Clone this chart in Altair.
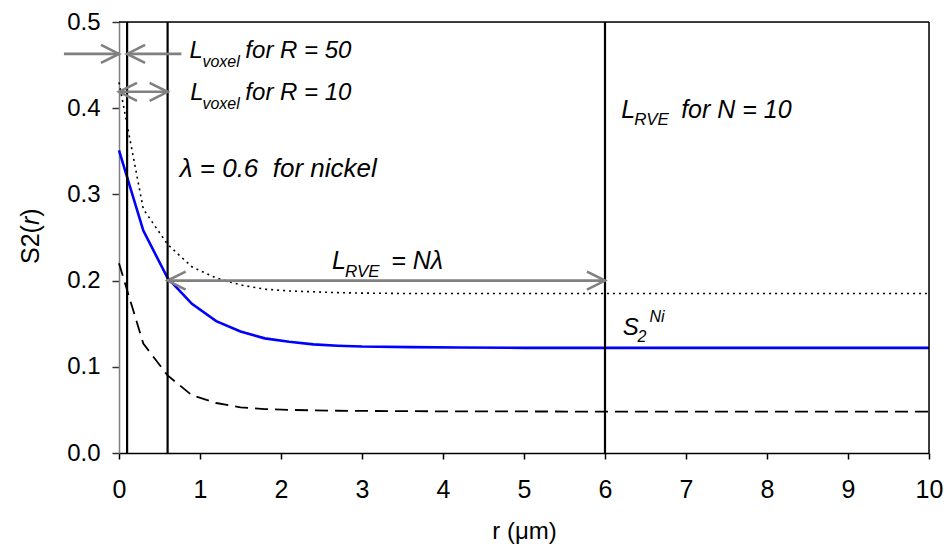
import altair as alt
import pandas as pd

# ---------------- data ----------------
r = [0, 0.3, 0.6, 0.9, 1.2, 1.5, 1.8, 2.1, 2.4, 2.7, 3.0, 3.6, 4.2, 5.0, 6.0, 7.0, 8.0, 9.0, 10.0]
s2_ni = [0.351, 0.258, 0.203, 0.173, 0.153, 0.141, 0.133, 0.129, 0.126, 0.1245, 0.1235,
         0.1228, 0.1224, 0.122, 0.122, 0.122, 0.122, 0.122, 0.122]
s2_upper = [0.43, 0.283, 0.242, 0.216, 0.203, 0.195, 0.190, 0.188, 0.187, 0.186, 0.1855,
            0.185, 0.185, 0.185, 0.185, 0.185, 0.185, 0.185, 0.185]
s2_lower = [0.22, 0.127, 0.090, 0.067, 0.058, 0.053, 0.051, 0.050, 0.0495, 0.049, 0.0488,
            0.0485, 0.0483, 0.0482, 0.048, 0.048, 0.048, 0.048, 0.048]

x_ticks = [0, 1, 2, 3, 4, 5, 6, 7, 8, 9, 10]
y_ticks = [0.0, 0.1, 0.2, 0.3, 0.4, 0.5]

vline_r = [0.1, 0.6, 6.0]

arrow_x1 = [-0.68, 0.1, 0.0, 0.6]
arrow_x2 = [0.0, 0.77, 0.6, 6.0]
arrow_y = [0.463, 0.463, 0.419, 0.2]
head_x = [0.0, 0.1, 0.0, 0.6, 0.6, 6.0]
head_y = [0.463, 0.463, 0.419, 0.419, 0.2, 0.2]
head_angle = [0, 180, 180, 0, 180, 0]

note_text = ["L", "voxel", "for R = 50",
             "L", "voxel", "for R = 10",
             "\u03bb = 0.6 \u00a0for nickel",
             "L", "RVE", "for N = 10",
             "L", "RVE", "= N\u03bb",
             "S", "2", "Ni"]
note_x = [0.87, 1.03, 1.56,
          0.88, 1.03, 1.56,
          0.75,
          6.2, 6.36, 6.94,
          2.63, 2.79, 3.36,
          6.22, 6.4, 6.55]
note_y = [0.458, 0.448, 0.458,
          0.410, 0.3995, 0.410,
          0.320,
          0.389, 0.381, 0.389,
          0.2136, 0.204, 0.2136,
          0.1374, 0.129, 0.152]
note_size = [24, 16, 24,
             24, 16, 24,
             26,
             25, 17, 25,
             25, 17, 25,
             24, 16, 16]

FONT = "Liberation Sans"

xs = alt.Scale(domain=[0, 10], nice=False, zero=False)
ys = alt.Scale(domain=[0, 0.5], nice=False, zero=False)

x_axis = alt.Axis(values=x_ticks, format="d", title="r (\u03bcm)", labelFontSize=25,
                  titleFontSize=24, titleFontWeight="normal", tickSize=6, labelPadding=18,
                  titlePadding=17, domainColor="black", tickColor="black", domainWidth=1.5,
                  tickWidth=1.5, grid=False, labelColor="black", titleColor="black",
                  labelFlush=False, labelFont=FONT, titleFont=FONT)
y_axis = alt.Axis(values=y_ticks, format=".1f", title=None, labelFontSize=24, tickSize=7,
                  labelPadding=12, domainColor="#808080", tickColor="#333333",
                  domainWidth=1.5, tickWidth=1.5, grid=False, labelColor="black",
                  labelFont=FONT)


def X(field, **kw):
    return alt.X(field, scale=xs, axis=x_axis, **kw)


def Y(field, **kw):
    return alt.Y(field, scale=ys, axis=y_axis, **kw)


curves = pd.DataFrame({"r": r, "ni": s2_ni, "up": s2_upper, "lo": s2_lower})

line_up = alt.Chart(curves).mark_line(color="black", strokeWidth=1.6, strokeDash=[2, 4]).encode(
    x=X("r:Q"), y=Y("up:Q"))
line_lo = alt.Chart(curves).mark_line(color="black", strokeWidth=1.8, strokeDash=[13, 7]).encode(
    x=X("r:Q"), y=Y("lo:Q"))
line_ni = alt.Chart(curves).mark_line(color="#0000ff", strokeWidth=2.6).encode(
    x=X("r:Q"), y=Y("ni:Q"))

vdf = pd.DataFrame({"x": vline_r, "y0": [0.0] * len(vline_r), "y1": [0.5] * len(vline_r)})
vlines = alt.Chart(vdf).mark_rule(color="black", strokeWidth=2.2).encode(
    x=X("x:Q"), y=Y("y0:Q"), y2="y1:Q")

frame_df = pd.DataFrame({"x": [0.0, 10.0], "x2": [10.0, 10.0], "y": [0.5, 0.0], "y2": [0.5, 0.5]})
frame = alt.Chart(frame_df).mark_rule(color="black", strokeWidth=1.5).encode(
    x=X("x:Q"), x2="x2:Q", y=Y("y:Q"), y2="y2:Q")

adf = pd.DataFrame({"x1": arrow_x1, "x2": arrow_x2, "y": arrow_y})
shafts = alt.Chart(adf).mark_rule(color="#808080", strokeWidth=2.6).encode(
    x=X("x1:Q"), x2="x2:Q", y=Y("y:Q"))

hdf = pd.DataFrame({"x": head_x, "y": head_y, "a": head_angle})
heads = alt.Chart(hdf).mark_point(
    shape="M-1,-0.5L0,0L-1,0.5", filled=False, color="#808080", strokeWidth=2.6,
    size=1296, opacity=1, strokeJoin="miter").encode(
    x=X("x:Q"), y=Y("y:Q"), angle=alt.Angle("a:Q", scale=None))

ndf = pd.DataFrame({"x": note_x, "y": note_y, "t": note_text, "s": note_size})
notes = alt.Chart(ndf).mark_text(align="left", baseline="alphabetic", fontStyle="italic",
                                 font=FONT, color="black").encode(
    x=X("x:Q"), y=Y("y:Q"), text="t:N", size=alt.Size("s:Q", scale=None))

# y-axis title "S2(r)" with italic r, rotated
yt_df = pd.DataFrame({"t": ["S2(", "r", ")"], "px": [-80, -80, -80],
                      "py": [242.0, 203.1, 194.8], "it": ["normal", "italic", "normal"]})
yt_norm = alt.Chart(yt_df[yt_df.it == "normal"]).mark_text(
    angle=270, align="left", baseline="alphabetic", fontSize=25, font=FONT, color="black").encode(
    x=alt.X("px:Q", scale=None), y=alt.Y("py:Q", scale=None), text="t:N")
yt_ital = alt.Chart(yt_df[yt_df.it == "italic"]).mark_text(
    angle=270, align="left", baseline="alphabetic", fontSize=25, font=FONT, color="black",
    fontStyle="italic").encode(
    x=alt.X("px:Q", scale=None), y=alt.Y("py:Q", scale=None), text="t:N")

chart = alt.layer(
    line_lo, line_up, line_ni, vlines, frame, shafts, heads, notes, yt_norm, yt_ital
).properties(
    width=810, height=431,
    autosize=alt.AutoSizeParams(type="none"),
    padding={"left": 111, "top": 14, "right": 14, "bottom": 94},
).configure_view(stroke=None).configure(font=FONT)

chart.save("out.html", embed_options={"renderer": "svg", "actions": False})
